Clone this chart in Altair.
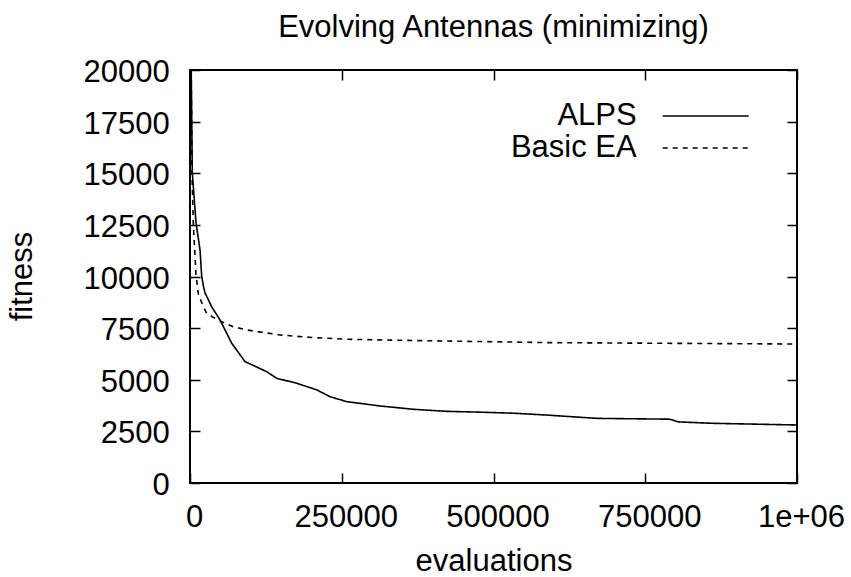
import altair as alt
import pandas as pd

# ---- data ----
alps_eval = [2000, 3800, 9900, 16500, 19300, 22000, 24700, 35800, 49400, 68700, 90600,
             126400, 142900, 175800, 208800, 230700, 258200, 313100, 367500,
             423000, 477900, 532300, 587800, 670200, 790800, 804000, 861700, 1000000]
alps_fit = [20000, 15020, 12600, 11290, 10000, 9550, 9210, 8530, 7900, 6770, 5880,
            5390, 5070, 4830, 4510, 4180, 3940, 3730, 3570,
            3470, 3430, 3380, 3290, 3130, 3090, 2960, 2890, 2810]

ea_eval = [2000, 3300, 5400, 9900, 13700, 21900, 27500, 38400, 49400, 71300,
           93400, 148300, 203000, 258000, 367000, 478000, 588000, 752000, 1000000]
ea_fit = [20000, 15020, 12600, 10080, 9160, 8540, 8220, 8020, 7850, 7570,
          7410, 7170, 7040, 6960, 6900, 6850, 6800, 6770, 6730]

series_names = ["ALPS", "Basic EA"]
x_ticks = [0, 250000, 500000, 750000, 1000000]
y_ticks = [0, 2500, 5000, 7500, 10000, 12500, 15000, 17500, 20000]

df = pd.concat([
    pd.DataFrame({"evals": alps_eval, "fitness": alps_fit, "series": series_names[0]}),
    pd.DataFrame({"evals": ea_eval, "fitness": ea_fit, "series": series_names[1]}),
], ignore_index=True)

FONT = "Liberation Sans"
FS = 31
INK = "black"

xscale = alt.Scale(domain=[0, 1000000], nice=False, zero=False)
yscale = alt.Scale(domain=[0, 20000], nice=False)

x_main = alt.Axis(
    values=x_ticks, orient="bottom",
    labelExpr="datum.value >= 1000000 ? '1e+06' : format(datum.value, 'd')",
    ticks=False, tickSize=0, domain=False, grid=False,
    labelFont=FONT, labelFontSize=FS, labelColor=INK,
    labelPadding=43, labelBaseline="alphabetic", labelOffset=4,
    labelFlush=False, labelOverlap=False,
    title="evaluations", titleFont=FONT, titleFontSize=FS, titleFontWeight="normal",
    titleColor=INK, titleX=303.5, titleY=87.5, titleAlign="center", titleBaseline="alphabetic",
)
y_main = alt.Axis(
    values=y_ticks, orient="left", format="d",
    ticks=False, tickSize=0, domain=False, grid=False,
    labelFont=FONT, labelFontSize=FS, labelColor=INK,
    labelPadding=20.7, labelAlign="right", labelBaseline="alphabetic", labelOffset=11.5,
    labelFlush=False, labelOverlap=False,
    title="fitness", titleFont=FONT, titleFontSize=FS, titleFontWeight="normal",
    titleColor=INK, titleAngle=270, titleX=-159, titleY=206, titleAlign="center",
    titleBaseline="alphabetic",
)


def tick_axis(values, orient):
    return alt.Axis(values=values, orient=orient, offset=-10, tickSize=10, ticks=True,
                    tickColor=INK, tickWidth=1.5, labels=False, domain=False,
                    grid=False, title=None)


lines = alt.Chart(df).mark_line(color=INK, strokeWidth=1.6, clip=True).encode(
    x=alt.X("evals:Q", scale=xscale, axis=x_main),
    y=alt.Y("fitness:Q", scale=yscale, axis=y_main),
    strokeDash=alt.StrokeDash(
        "series:N",
        scale=alt.Scale(domain=series_names, range=[[1, 0], [5, 5]]),
        legend=alt.Legend(
            orient="none", legendX=499.2, legendY=29.5, title=None,
            symbolType="M-2.72,0H2.72", symbolSize=1000, symbolStrokeWidth=1.3,
            symbolStrokeColor=INK, symbolFillColor="transparent", symbolOffset=0,
            labelOffset=alt.ExprRef(expr="-85.5"), labelAlign="right",
            labelFont=FONT, labelFontSize=FS,
            labelColor=INK, labelLimit=0, rowPadding=0, padding=0,
        ),
    ),
    order="evals:Q",
)

ticks_bl = alt.Chart(df).mark_line(opacity=0).encode(
    x=alt.X("evals:Q", scale=xscale, axis=tick_axis(x_ticks, "bottom")),
    y=alt.Y("fitness:Q", scale=yscale, axis=tick_axis(y_ticks, "left")),
    detail="series:N",
)
ticks_tr = alt.Chart(df).mark_line(opacity=0).encode(
    x=alt.X("evals:Q", scale=xscale, axis=tick_axis(x_ticks, "top")),
    y=alt.Y("fitness:Q", scale=yscale, axis=tick_axis(y_ticks, "right")),
    detail="series:N",
)

chart = alt.layer(lines, ticks_bl, ticks_tr).resolve_axis(
    x="independent", y="independent"
).properties(
    width=607, height=413,
    autosize=alt.AutoSizeParams(type="none"),
    padding={"left": 190, "top": 70, "right": 54, "bottom": 94},
    title=alt.Title("Evolving Antennas (minimizing)", font=FONT, fontSize=FS,
                    fontWeight="normal", color=INK, anchor="middle", frame="group",
                    baseline="alphabetic", offset=0, dy=11),
).configure(
    font=FONT, background="white",
    view=alt.ViewConfig(stroke=INK, strokeWidth=2),
)

chart.save("out.html", embed_options={"renderer": "svg", "actions": False})
